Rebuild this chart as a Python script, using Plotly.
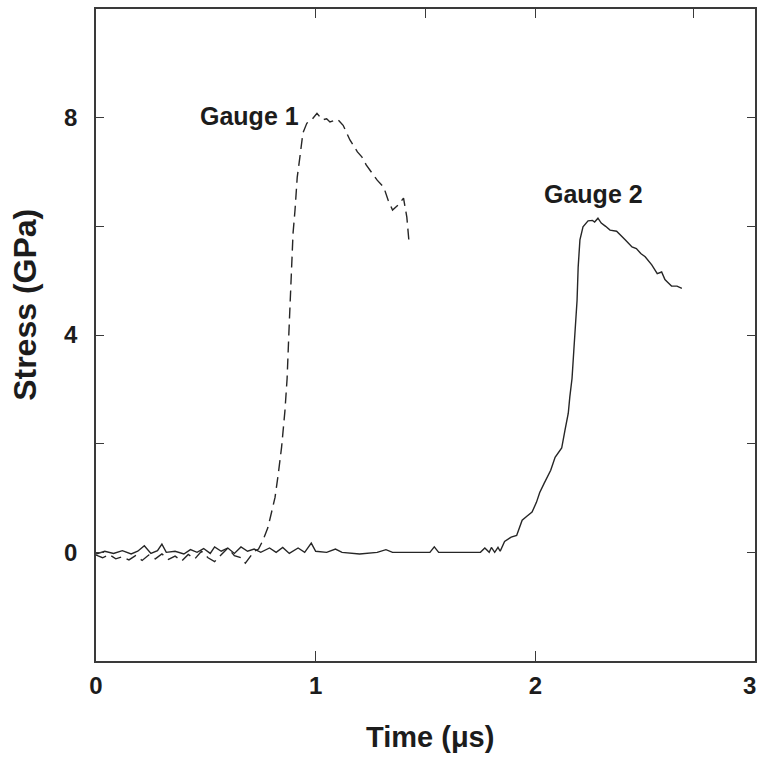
import plotly.graph_objects as go

# Gauge 1 record (dashed)
g1_time = [0.00, 0.03, 0.06, 0.09, 0.12, 0.15, 0.18, 0.21, 0.24, 0.27, 0.30, 0.33,
           0.36, 0.39, 0.42, 0.45, 0.48, 0.51, 0.54, 0.57, 0.60, 0.63, 0.66, 0.68,
           0.70, 0.72, 0.74, 0.76, 0.783, 0.80, 0.815, 0.83, 0.845, 0.86, 0.87,
           0.878, 0.888, 0.897, 0.906, 0.916, 0.928, 0.942, 0.96, 0.98, 1.006,
           1.03, 1.05, 1.065, 1.085, 1.10, 1.125, 1.156, 1.19, 1.21, 1.23, 1.255,
           1.28, 1.31, 1.33, 1.35, 1.375, 1.40, 1.415, 1.425]
g1_stress = [-0.05, -0.10, -0.04, -0.12, -0.08, -0.14, -0.06, -0.15, -0.05, -0.12,
             -0.03, -0.13, -0.07, -0.16, -0.04, -0.12, 0.02, -0.10, -0.17, -0.05,
             0.08, -0.06, -0.10, -0.20, -0.08, 0.02, 0.06, 0.22, 0.46, 0.75, 1.01,
             1.45, 1.94, 2.60, 3.20, 4.03, 5.00, 5.87, 6.30, 6.90, 7.27, 7.72,
             7.90, 7.95, 8.08, 7.96, 7.98, 7.92, 7.95, 7.97, 7.86, 7.59, 7.37,
             7.28, 7.13, 7.00, 6.85, 6.72, 6.48, 6.30, 6.39, 6.52, 6.17, 5.71]

# Gauge 2 record (solid)
g2_time = [0.00, 0.04, 0.08, 0.12, 0.16, 0.19, 0.22, 0.25, 0.28, 0.30, 0.32, 0.36,
           0.40, 0.43, 0.46, 0.49, 0.52, 0.54, 0.57, 0.60, 0.63, 0.66, 0.69, 0.72,
           0.75, 0.79, 0.82, 0.85, 0.88, 0.92, 0.95, 0.98, 1.00, 1.05, 1.09, 1.12,
           1.20, 1.28, 1.32, 1.35, 1.45, 1.52, 1.54, 1.56, 1.65, 1.75, 1.77, 1.79,
           1.80, 1.815, 1.83, 1.84, 1.86, 1.89, 1.915, 1.94, 1.96, 1.985, 2.005,
           2.02, 2.04, 2.07, 2.09, 2.12, 2.135, 2.15, 2.157, 2.167, 2.175, 2.18,
           2.19, 2.195, 2.203, 2.217, 2.24, 2.26, 2.27, 2.285, 2.30, 2.32, 2.34,
           2.37, 2.39, 2.41, 2.44, 2.46, 2.48, 2.50, 2.53, 2.555, 2.575, 2.59,
           2.60, 2.62, 2.645, 2.667]
g2_stress = [-0.03, 0.02, -0.02, 0.03, -0.03, 0.02, 0.12, -0.02, 0.03, 0.15, 0.00,
             0.02, -0.03, 0.05, 0.00, 0.07, -0.02, 0.10, 0.02, 0.08, -0.02, 0.10,
             0.02, 0.06, 0.00, 0.08, 0.00, 0.09, -0.02, 0.08, 0.00, 0.17, 0.02,
             0.00, 0.06, 0.00, -0.03, 0.00, 0.05, 0.00, 0.00, 0.00, 0.10, 0.00,
             0.00, 0.00, 0.08, 0.00, 0.09, 0.00, 0.09, 0.02, 0.20, 0.28, 0.31,
             0.59, 0.66, 0.74, 0.92, 1.10, 1.27, 1.51, 1.75, 1.92, 2.25, 2.56,
             2.86, 3.20, 3.70, 4.03, 4.64, 5.25, 5.75, 5.99, 6.10, 6.11, 6.08,
             6.15, 6.06, 6.00, 5.93, 5.91, 5.82, 5.75, 5.62, 5.59, 5.50, 5.44,
             5.29, 5.13, 5.16, 5.02, 4.98, 4.90, 4.90, 4.86]

x_ticks = [0, 1, 2, 3]
x_ticktext = ["0", "1", "2", ""]   # the end label is placed separately below
x_end_label = "3"
x_top_ticks = [1, 1.5, 2, 2.72]
y_ticks = [0, 2, 4, 6, 8]
y_ticktext = ["0", "", "4", "", "8"]

FONT = "Liberation Sans, Arial, sans-serif"
INK = "#1c1c1c"
AXIS = "#3a3a3a"
TICKFONT = dict(family=FONT, size=24, color=INK, weight="bold")

fig = go.Figure()
fig.add_trace(go.Scatter(x=g1_time, y=g1_stress, mode="lines",
                         line=dict(color="#262626", width=1.4, dash="11px,6px"),
                         showlegend=False, name="Gauge 1"))
fig.add_trace(go.Scatter(x=g2_time, y=g2_stress, mode="lines",
                         line=dict(color="#262626", width=1.4),
                         showlegend=False, name="Gauge 2"))
# carrier for the top tick axis
fig.add_trace(go.Scatter(x=[None], y=[None], xaxis="x2", showlegend=False,
                         hoverinfo="skip"))

fig.add_annotation(x=0.935, y=8.03, xref="x", yref="y", text="Gauge 1",
                   showarrow=False, xanchor="right", yanchor="middle",
                   font=dict(family=FONT, size=25, color=INK, weight="bold"))
fig.add_annotation(x=2.265, y=6.6, xref="x", yref="y", text="Gauge 2",
                   showarrow=False, xanchor="center", yanchor="middle",
                   font=dict(family=FONT, size=25, color=INK, weight="bold"))

# last x tick label, kept inside the page
fig.add_annotation(x=x_ticks[-1], y=-0.0383, xref="x", yref="paper",
                   text=x_end_label, showarrow=False, xanchor="right",
                   yanchor="middle", xshift=3, font=TICKFONT)

# axis titles
fig.add_annotation(x=-0.108, y=0.546, xref="paper", yref="paper",
                   text="Stress (GPa)", textangle=-90, showarrow=False,
                   xanchor="center", yanchor="middle",
                   font=dict(family=FONT, size=32, color=INK, weight="bold"))
fig.add_annotation(x=0.507, y=-0.117, xref="paper", yref="paper",
                   text="Time (\u03bcs)", showarrow=False,
                   xanchor="center", yanchor="middle",
                   font=dict(family=FONT, size=29, color=INK, weight="bold"))

fig.update_layout(
    width=759, height=763,
    margin=dict(l=96, r=4, t=9, b=102, autoexpand=False),
    paper_bgcolor="white", plot_bgcolor="white",
    xaxis=dict(range=[0, 3], tickvals=x_ticks, ticktext=x_ticktext,
               ticks="inside", ticklen=10,
               tickwidth=1.3, tickcolor=AXIS, showline=True, linecolor=AXIS,
               linewidth=1.6, mirror=True, showgrid=False, zeroline=False,
               ticklabelstandoff=2, automargin=False, tickfont=TICKFONT),
    xaxis2=dict(range=[0, 3], overlaying="x", side="top", tickvals=x_top_ticks,
                ticks="inside", ticklen=9, tickwidth=1.3, tickcolor=AXIS,
                showticklabels=False, showline=False, showgrid=False,
                zeroline=False, automargin=False),
    yaxis=dict(range=[-2, 10], tickvals=y_ticks, ticktext=y_ticktext,
               ticks="inside", ticklen=8, tickwidth=1.3, tickcolor=AXIS,
               showline=True, linecolor=AXIS, linewidth=1.6, mirror="ticks",
               showgrid=False, zeroline=False, ticklabelstandoff=12,
               automargin=False, tickfont=TICKFONT),
)

fig.write_html("out.html")
